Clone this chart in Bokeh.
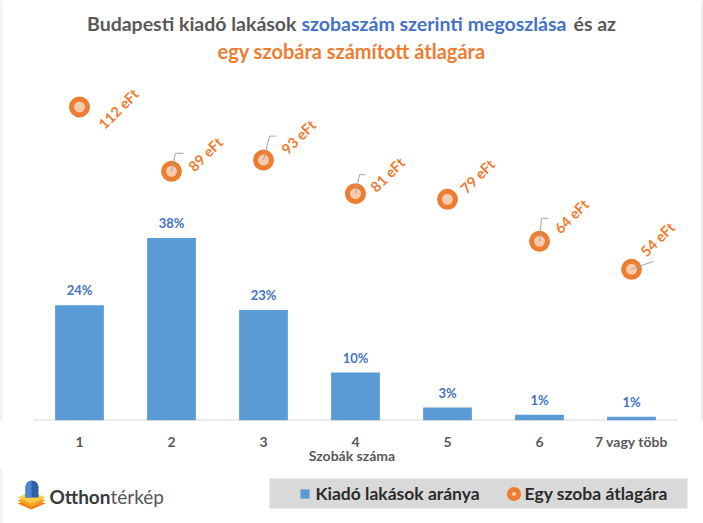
import math
from bokeh.plotting import figure
from bokeh.layouts import column
from bokeh.models import (Range1d, FixedTicker, Label, ColumnDataSource, Legend,
                          LegendItem, Span)
from bokeh.core.properties import value
from bokeh.embed import file_html
from bokeh.resources import INLINE

# ---------------- data ----------------
rooms = ["1", "2", "3", "4", "5", "6", "7 vagy több"]
share_pct = [24.0, 38.0, 23.0, 10.0, 2.7, 1.2, 0.8]      # Kiadó lakások aránya (%)
price_eft = [112, 89, 93, 81, 79, 64, 54]               # Egy szoba átlagára (eFt)
series_names = ["Kiadó lakások aránya", "Egy szoba átlagára"]

# ---------------- style ----------------
FONT = "Lato"
BAR = "#5B9BD5"
ORANGE = "#ED7D31"
PEACH = "#F8CBAD"
BLUE_T = "#4472C4"
GRAY_T = "#595959"
DARK_T = "#2B2B2B"
EDGE = "#D9D9D9"

# label offsets (px) for the price labels, and leader lines (px, relative to marker)
label_dx = [39, 34, 35, 32, 30, 32, 26]
label_dy = [2, -17, -23, -19, -23, -25, -30]
leaders = [[], [(0, 0), (4, -18), (12, -18)], [(0, 0), (6, -24), (12, -24)],
           [(0, 0), (4, -19), (10, -19)], [], [(0, 0), (2, -23), (9, -23)],
           [(0, 0), (22, -8)]]

# geometry in page pixels
W, H = 703, 523
FL, FR, FT, FB = 33, 677, 84, 420      # plot area of the bars
TOP_H = 468                            # height of the main figure
X_PX = (FR - FL) / 7.0                 # px per category
Y1_MAX = 70
Y1_PX = (FB - FT) / Y1_MAX
Y2_MAX = 120
Y2_PX = (FB - FT) / Y2_MAX

xs = list(range(1, len(rooms) + 1))
x0 = 0.5 - FL / X_PX

p = figure(frame_width=W, frame_height=FB,
           min_border_left=0, min_border_right=0, min_border_top=0,
           min_border_bottom=TOP_H - FB,
           x_range=Range1d(x0, x0 + W / X_PX),
           y_range=Range1d(0, FB / Y1_PX),
           y_axis_location=None, output_backend="svg", toolbar_location=None,
           tools="", title=None)
p.extra_y_ranges = {"eft": Range1d(0, FB / Y2_PX)}
p.outline_line_color = None
p.xgrid.visible = False
p.ygrid.visible = False
p.background_fill_color = "white"
p.border_fill_color = "white"

ax = p.xaxis[0]
ax.ticker = FixedTicker(ticks=xs)
ax.major_label_overrides = {i: lab for i, lab in zip(xs, rooms)}
ax.axis_line_color = None
ax.major_tick_line_color = None
ax.minor_tick_line_color = None
ax.major_tick_out = 0
ax.major_tick_in = 0
ax.major_label_standoff = 12
ax.major_label_text_font = FONT
ax.major_label_text_font_style = "bold"
ax.major_label_text_font_size = "14px"
ax.major_label_text_color = GRAY_T
ax.axis_label = "Szobák száma"
ax.axis_label_standoff = -6
ax.axis_label_text_font = FONT
ax.axis_label_text_font_style = "bold"
ax.axis_label_text_font_size = "14px"
ax.axis_label_text_color = GRAY_T

# chart border remnants
p.add_layout(Span(location=x0 + 0.5 / X_PX, dimension="height", line_color=EDGE,
                  line_width=1))
p.add_layout(Span(location=x0 + 701.5 / X_PX, dimension="height", line_color=EDGE,
                  line_width=1))

# category axis baseline
p.segment(x0=[xs[0] - 0.5], x1=[xs[-1] + 0.5], y0=[0], y1=[0],
          line_color=EDGE, line_width=2)

# bars
bsrc = ColumnDataSource(dict(x=xs, top=share_pct,
                             lab=[f"{round(v)}%" for v in share_pct]))
bars = p.vbar(x="x", top="top", width=0.53, source=bsrc, fill_color=BAR,
              line_color=None)
p.text(x="x", y="top", text="lab", source=bsrc, text_align="center",
       text_baseline="middle", y_offset=-15, text_font=value(FONT),
       text_font_style="bold", text_font_size="13px", text_color=BLUE_T)

# price markers
psrc = ColumnDataSource(dict(x=xs, y=price_eft,
                             lab=[f"{v} eFt" for v in price_eft],
                             dx=label_dx, dy=label_dy))
dots = p.scatter(x="x", y="y", source=psrc, y_range_name="eft", size=16,
                 fill_color=PEACH, line_color=ORANGE, line_width=5)

lx, ly = [], []
for xi, yi, pts in zip(xs, price_eft, leaders):
    if not pts:
        continue
    lx.append([xi + dx / X_PX for dx, dy in pts])
    ly.append([yi - dy / Y2_PX for dx, dy in pts])
p.multi_line(xs=lx, ys=ly, y_range_name="eft", line_color="#A6A6A6",
             line_width=1)

p.text(x="x", y="y", text="lab", source=psrc, y_range_name="eft",
       x_offset="dx", y_offset="dy", angle=math.pi / 4, text_align="center",
       text_baseline="middle", text_font=value(FONT), text_font_style="bold",
       text_font_size="14.5px", text_color=ORANGE)


# title (screen units relative to the frame's bottom-left corner)
def lab(X, Y, text, color, align, size="19.5px", style="bold"):
    p.add_layout(Label(x=X, y=FB - Y, x_units="screen", y_units="screen",
                       text=text, text_color=color, text_align=align,
                       text_baseline="middle", text_font=FONT,
                       text_font_style=style, text_font_size=size))


lab(296, 23, "Budapesti kiadó lakások", GRAY_T, "right")
lab(301, 23, "szobaszám szerinti megoszlása", BLUE_T, "left")
lab(573, 23, "és az", GRAY_T, "left")
lab(351, 50, "egy szobára számított átlagára", ORANGE, "center", size="20px")

# ---------------- bottom strip: logo + legend ----------------
p2 = figure(frame_width=W, frame_height=H - TOP_H, min_border=0,
            x_range=Range1d(0, W), y_range=Range1d(H, TOP_H),
            x_axis_location=None, y_axis_location=None, output_backend="svg",
            toolbar_location=None, tools="", title=None)
p2.outline_line_color = None
p2.xgrid.visible = False
p2.ygrid.visible = False
p2.background_fill_color = "white"
p2.border_fill_color = "white"
p2.add_layout(Span(location=0.5, dimension="height", line_color=EDGE, line_width=1))

# legend background
p2.quad(left=[269], right=[687], top=[478], bottom=[508], fill_color="#D9D9D9",
        line_color=None)

nan = float("nan")
sq = p2.scatter(x=[nan], y=[nan], marker="square", fill_color=BAR, line_color=None)
dot = p2.scatter(x=[nan], y=[nan], marker="circle", fill_color=PEACH,
                 line_color=ORANGE, line_width=5)
legend = Legend(items=[LegendItem(label=series_names[0], renderers=[sq]),
                       LegendItem(label=series_names[1], renderers=[dot])],
                location=(292.5, H - 504.5), orientation="horizontal",
                glyph_width=23, glyph_height=23, label_standoff=0, spacing=22,
                padding=0, margin=0, background_fill_alpha=0,
                border_line_alpha=0, label_text_font=FONT,
                label_text_font_style="bold", label_text_font_size="17.5px",
                label_text_color=DARK_T, label_height=23)
p2.add_layout(legend)

# logo
logo_layers = [
    ([17, 31, 45, 31], [503, 497, 503, 509], "#EE8316"),
    ([17, 31, 45, 31], [500, 494, 500, 506], "#F5A623"),
    ([17, 31, 45, 31], [497, 491, 497, 503], "#FBCB4A"),
    ([25, 25, 26, 28, 31.5, 35, 37, 38, 38], [497, 486, 483, 481, 480, 481, 483, 486, 497], "#2F5DA8"),
    ([25, 25, 26, 28, 31, 31], [497, 486, 483, 481, 480, 497], "#4F86D0"),
]
for lxs, lys, col in logo_layers:
    p2.patch(lxs, lys, fill_color=col, line_color=None)

p2.add_layout(Label(x=110, y=496, text="Otthon", text_color="#3A3A3A",
                    text_align="right", text_baseline="middle", text_font=FONT,
                    text_font_style="bold", text_font_size="19px"))
p2.add_layout(Label(x=110, y=496, text="térkép", text_color="#555555",
                    text_align="left", text_baseline="middle", text_font=FONT,
                    text_font_style="normal", text_font_size="19px"))

layout = column(p, p2, spacing=0)
open("out.html", "w").write(file_html(layout, INLINE))
